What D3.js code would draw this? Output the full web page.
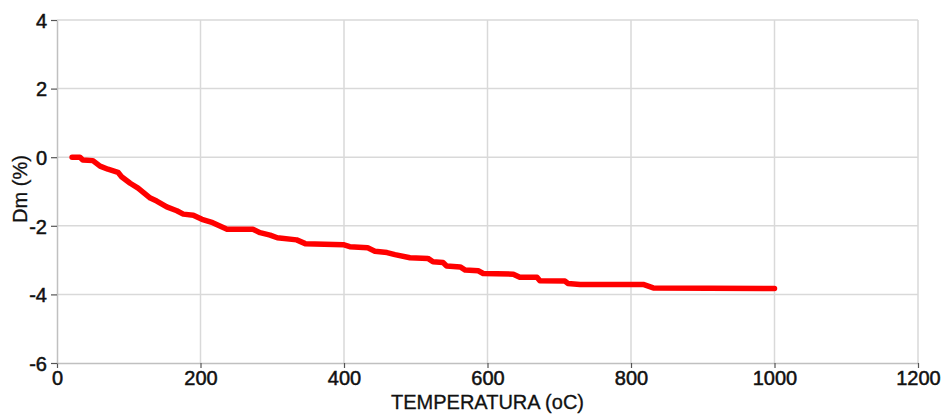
<!DOCTYPE html>
<html><head><meta charset="utf-8">
<script src="https://cdn.jsdelivr.net/npm/d3@7"></script>
<style>
body{margin:0;background:#fff;}
svg{display:block;font-family:"Liberation Sans",Arial,sans-serif;}
</style></head>
<body><svg id="c" width="946" height="414"></svg>
<script>
const temperature = [21,32,36,50,60,71,85,90,102,113,130,139,153,167,176,190,202,217,237,273,283,297,307,334,346,399,408,433,443,460,471,492,517,524,538,543,562,569,587,594,636,645,669,673,708,712,729,817,831,1000];
const dm = [0,0,-0.08,-0.1,-0.26,-0.35,-0.44,-0.57,-0.76,-0.9,-1.19,-1.28,-1.45,-1.56,-1.66,-1.69,-1.81,-1.91,-2.1,-2.1,-2.2,-2.27,-2.35,-2.41,-2.52,-2.55,-2.61,-2.64,-2.74,-2.78,-2.84,-2.93,-2.95,-3.05,-3.07,-3.17,-3.2,-3.29,-3.31,-3.39,-3.41,-3.5,-3.5,-3.6,-3.61,-3.68,-3.71,-3.71,-3.81,-3.83];
const xTicks = [0,200,400,600,800,1000,1200];
const yTicks = [-6,-4,-2,0,2,4];
const xTitle = "TEMPERATURA (oC)";
const yTitle = "Dm (%)";

const svg = d3.select("#c");
const m = {l:57, r:918, t:20, b:363};
const x = d3.scaleLinear().domain([0,1200]).range([m.l, m.r]);
const y = d3.scaleLinear().domain([-6,4]).range([m.b, m.t]);

// gridlines
svg.append("g").selectAll("line").data(xTicks.slice(1)).join("line")
  .attr("x1", d=>x(d)).attr("x2", d=>x(d)).attr("y1", m.t).attr("y2", m.b)
  .attr("stroke","#d9d9d9").attr("stroke-width",1.5);
svg.append("g").selectAll("line").data(yTicks.slice(1)).join("line")
  .attr("x1", m.l).attr("x2", m.r).attr("y1", d=>y(d)).attr("y2", d=>y(d))
  .attr("stroke","#d9d9d9").attr("stroke-width",1.5);

// axes
const fmt = d => String(d);
const xa = svg.append("g").attr("transform",`translate(0,${m.b})`)
  .call(d3.axisBottom(x).tickValues(xTicks).tickFormat(fmt).tickSize(5).tickPadding(3).tickSizeOuter(0));
const ya = svg.append("g").attr("transform",`translate(${m.l},0)`)
  .call(d3.axisLeft(y).tickValues(yTicks).tickFormat(fmt).tickSize(6).tickPadding(4).tickSizeOuter(0));
[xa,ya].forEach(a=>{
  a.select(".domain").attr("stroke","#c0c0c0").attr("stroke-width",1.5);
  a.selectAll(".tick line").attr("stroke","#555").attr("stroke-width",1.2);
  a.selectAll(".tick text").attr("fill","#111").attr("font-size",20)
   .attr("stroke","#111").attr("stroke-width",0.5)
   .attr("font-family","'Liberation Sans',Arial,sans-serif");
});
ya.selectAll(".tick text").attr("dy","0.36em");
xa.selectAll(".tick text").attr("dy","0.72em");

// line
const line = d3.line().x((d,i)=>x(temperature[i])).y((d,i)=>y(dm[i]));
svg.append("path").datum(dm).attr("d", line)
  .attr("fill","none").attr("stroke","#ff0000").attr("stroke-width",5.5)
  .attr("stroke-linejoin","round").attr("stroke-linecap","round");

// titles
svg.append("text").attr("x",(m.l+m.r)/2).attr("y",409).attr("text-anchor","middle")
  .attr("font-size",20).attr("fill","#111").attr("stroke","#111").attr("stroke-width",0.3).text(xTitle);
svg.append("text").attr("transform",`translate(27,189) rotate(-90)`)
  .attr("text-anchor","middle").attr("font-size",20).attr("fill","#111")
  .attr("stroke","#111").attr("stroke-width",0.3).text(yTitle);
</script></body></html>
